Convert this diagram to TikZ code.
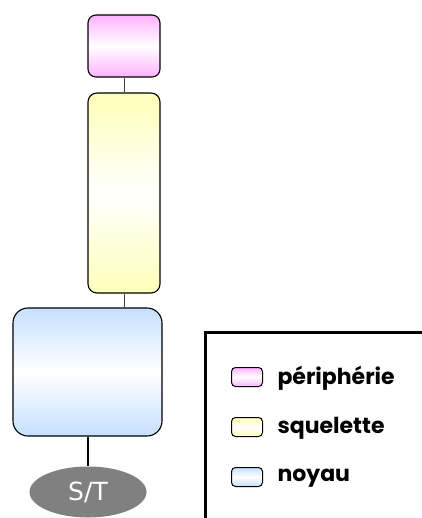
\documentclass[tikz,border=0pt]{standalone}
\usepackage{fontspec}
\setmainfont{Poppins}
\newfontfamily\stfont{DejaVu Sans}
\usepackage{tikz}
\usetikzlibrary{shapes.geometric}

\definecolor{peric}{RGB}{255,178,255}
\definecolor{squelc}{RGB}{255,255,185}
\definecolor{noyauc}{RGB}{198,224,255}
\definecolor{stc}{RGB}{128,128,128}

\begin{document}
\begin{tikzpicture}[x=1pt,y=-1pt,
    part/.style={draw,line width=1.1pt,rounded corners=#1,minimum width=72pt,
      inner sep=0pt},
    key/.style={draw,line width=1pt,rounded corners=4pt,minimum width=31pt,
      minimum height=19pt,inner sep=0pt,top color=#1,bottom color=#1,middle color=white},
    keytext/.style={anchor=west,font=\bfseries\fontsize{22}{26}\selectfont}]
      \useasboundingbox (0,0) rectangle (421,518);
      \node [part=8pt,minimum height=62pt,top color=peric,bottom color=peric,middle color=white] (peri) at (124,46) {};
      \node [part=9pt,minimum height=200pt,top color=squelc,bottom color=squelc,middle color=white] (squel) at (124,193) {};
      \node [part=15pt,minimum width=149pt,minimum height=128pt,top color=noyauc,bottom color=noyauc,middle color=white] (noyau) at (87.5,372) {};
      \node [ellipse,fill=stc,minimum width=117pt,minimum height=51pt,inner sep=0pt,text=white,font=\stfont\fontsize{25}{28}\selectfont] (st) at (88,492) {S/T};
      \draw [line width=1pt,black!75] (peri) -- (squel);
      \draw [line width=1pt,black!75] (squel.south) -- (squel.south |- noyau.north);
      \draw [line width=2.5pt] (st.north |- noyau.south) -- (st);
      % legende
      \draw [line width=3pt] (425,332) -| (205,525);
      \node [key=peric] (kperi) at (247,377) {};
      \node [keytext] (tperi) at (kperi.east) [xshift=11pt,yshift=-1pt] {périphérie};
      \node [key=squelc] (ksquel) at (247,427) {};
      \node [keytext] (tsquel) at (ksquel.east) [xshift=11pt,yshift=-1pt] {squelette};
      \node [key=noyauc] (knoyau) at (247,477) {};
      \node [keytext] (tnoyau) at (knoyau.east) [xshift=11pt,yshift=-1pt] {noyau};
\end{tikzpicture}
\end{document}
